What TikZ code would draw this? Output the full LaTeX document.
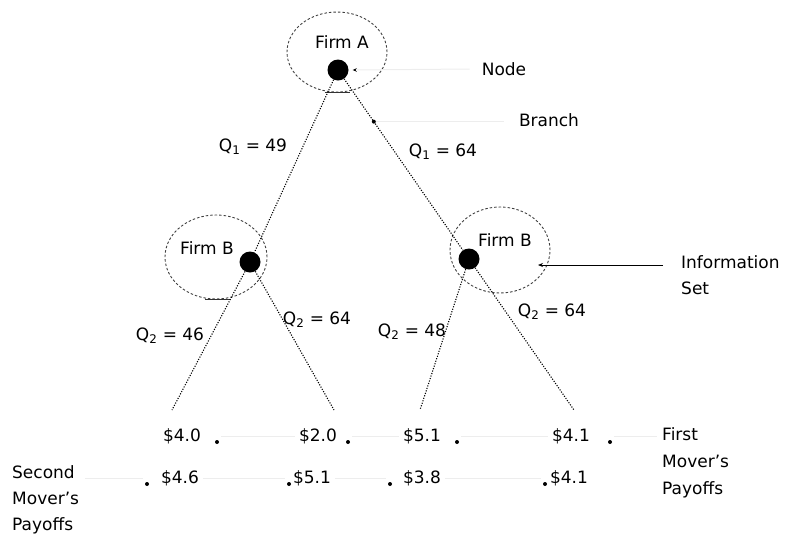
\documentclass[tikz,border=0pt]{standalone}
\usepackage{fontspec}
\setmainfont{DejaVu Sans}
\usetikzlibrary{arrows.meta,shapes.geometric}

\begin{document}
\begin{tikzpicture}[x=1pt,y=-1pt,
  every node/.style={font=\fontsize{17}{20}\selectfont},
  decision/.style={circle, fill=black, minimum size=21pt, inner sep=0pt},
  infoset/.style={ellipse, draw=black!75, dash pattern=on 2.5pt off 2pt, line width=0.9pt, inner sep=0pt},
  branchline/.style={line width=1.1pt, dash pattern=on 1.1pt off 1.5pt},
  leader/.style={draw=black!7, line width=1pt},
  tipdot/.style={circle, fill=black, minimum size=4pt, inner sep=0pt},
  txt/.style={inner sep=0pt},
  stack/.style={inner sep=0pt, align=left, font=\fontsize{17}{26}\selectfont}]
\useasboundingbox (0,0) rectangle (785,539);

% information sets
\node[infoset, minimum width=100pt, minimum height=80pt] (setA) at (337,52) {};
\node[infoset, minimum width=102pt, minimum height=84pt] (setB1) at (216,257) {};
\node[infoset, minimum width=100pt, minimum height=86pt] (setB2) at (500,250) {};
\draw[black!80, line width=0.8pt] (325,92) -- (350,92);
\draw[black!80, line width=0.8pt] (205,299) -- (230,299);

% player names
\node[txt] (firmA) at (342,42) {Firm A};
\node[txt] (firmB1) at (207,248) {Firm B};
\node[txt] (firmB2) at (505,240) {Firm B};

% decision nodes
\node[decision] (A) at (338,70) {};
\node[decision] (B1) at (250,262) {};
\node[decision] (B2) at (469,259) {};

% branch ends
\coordinate (l1) at (172,410);
\coordinate (l2) at (334,410);
\coordinate (l3) at (420,410);
\coordinate (l4) at (574,410);

% branches
\draw[branchline] (A) -- (B1);
\draw[branchline] (A) -- (B2);
\draw[branchline] (B1) -- (l1);
\draw[branchline] (B1) -- (l2);
\draw[branchline] (B2) -- (l3);
\draw[branchline] (B2) -- (l4);

% branch labels
\node[txt] (q1a) at (253,147) {Q\textsubscript{1} = 49};
\node[txt] (q1b) at (443,152) {Q\textsubscript{1} = 64};
\node[txt] (q2a) at (170,336) {Q\textsubscript{2} = 46};
\node[txt] (q2b) at (317,320) {Q\textsubscript{2} = 64};
\node[txt] (q2c) at (412,332) {Q\textsubscript{2} = 48};
\node[txt] (q2d) at (552,312) {Q\textsubscript{2} = 64};

% callouts
\node[txt] (nodeLbl) at (504,69) {Node};
\draw[leader, -{Stealth[length=4pt, width=3.5pt, color=black]}] ([xshift=-12pt]nodeLbl.west) -- ([xshift=4pt]A.east);
\node[txt] (branchLbl) at (549,120) {Branch};
\path (A) -- (B2) coordinate[pos=0.25] (brk);
\node[tipdot] (brkdot) at (brk) {};
\draw[leader] (brkdot.east) -- ([xshift=-15pt]branchLbl.west |- brkdot);
\node[stack, anchor=west] (infoLbl) at (681,275) {Information\\Set};
\coordinate (infoTip) at (538,265);
\draw[line width=0.9pt, -{Stealth[length=5pt, width=4pt]}] (663,265) coordinate (infoTail) -- (infoTip);

% first mover's payoffs
\node[txt] (p1a) at (182,436) {\$4.0};
\node[txt] (p1b) at (318,436) {\$2.0};
\node[txt] (p1c) at (422,436) {\$5.1};
\node[txt] (p1d) at (571,436) {\$4.1};
\node[tipdot] (d1a) at (217,442) {};
\node[tipdot] (d1b) at (348,442) {};
\node[tipdot] (d1c) at (457,442) {};
\node[tipdot] (d1d) at (610,442) {};
\node[stack, anchor=west, font=\fontsize{17}{27}\selectfont] (firstLbl) at (662,463) {First\\Mover's\\Payoffs};
\draw[leader] ([xshift=4pt]d1a |- p1a) -- ([xshift=-4pt]p1b.west);
\draw[leader] ([xshift=4pt]d1b |- p1b) -- ([xshift=-4pt]p1c.west);
\draw[leader] ([xshift=4pt]d1c |- p1c) -- ([xshift=-4pt]p1d.west);
\draw[leader] ([xshift=4pt]d1d |- p1d) -- ([xshift=-5pt]firstLbl.west |- p1d);

% second mover's payoffs
\node[txt] (p2a) at (180,478) {\$4.6};
\node[txt] (p2b) at (312,478) {\$5.1};
\node[txt] (p2c) at (422,478) {\$3.8};
\node[txt] (p2d) at (569,478) {\$4.1};
\node[tipdot] (d2a) at (147,484) {};
\node[tipdot] (d2b) at (289,484) {};
\node[tipdot] (d2c) at (390,484) {};
\node[tipdot] (d2d) at (545,484) {};
\node[stack, anchor=west] (secondLbl) at (12,500) {Second\\Mover's\\Payoffs};
\draw[leader] ([xshift=6pt]secondLbl.east |- p2a) -- ([xshift=-4pt]d2a |- p2a);
\draw[leader] ([xshift=4pt]p2a.east) -- ([xshift=-4pt]d2b |- p2b);
\draw[leader] ([xshift=4pt]p2b.east) -- ([xshift=-4pt]d2c |- p2c);
\draw[leader] ([xshift=4pt]p2c.east) -- ([xshift=-4pt]d2d |- p2d);
\end{tikzpicture}
\end{document}
